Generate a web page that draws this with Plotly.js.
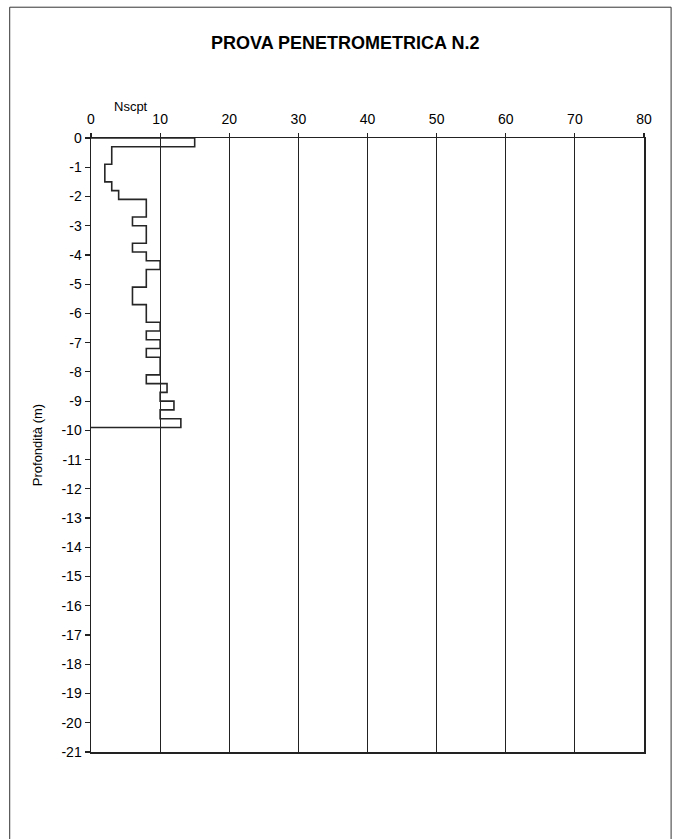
<!DOCTYPE html>
<html>
<head>
<meta charset="utf-8">
<script src="https://cdn.plot.ly/plotly-3.0.1.min.js"></script>
<style>html,body{margin:0;padding:0;background:#fff;}#chart{width:681px;height:839px;}</style>
</head>
<body>
<div id="chart"></div>
<script>
// Depth of the top of each 0.3 m interval (m)
var depthTop = [0,0.3,0.6,0.9,1.2,1.5,1.8,2.1,2.4,2.7,3.0,3.3,3.6,3.9,4.2,4.5,4.8,5.1,5.4,5.7,6.0,6.3,6.6,6.9,7.2,7.5,7.8,8.1,8.4,8.7,9.0,9.3,9.6];
// Nscpt blow count for each interval
var nscpt = [15,3,3,2,2,3,4,8,8,6,8,8,6,8,10,8,8,6,6,8,8,10,8,10,8,10,10,8,11,10,12,10,13];
var finalDepth = 9.9;
var xTicks = [0,10,20,30,40,50,60,70,80];
var yTickVals = [0,-1,-2,-3,-4,-5,-6,-7,-8,-9,-10,-11,-12,-13,-14,-15,-16,-17,-18,-19,-20,-21];
var yTickText = ["0","-1","-2","-3","-4","-5","-6","-7","-8","-9","-10","-11","-12","-13","-14","-15","-16","-17","-18","-19","-20","-21"];

var xs = [0], ys = [0];
for (var i = 0; i < nscpt.length; i++) { xs.push(nscpt[i]); ys.push(-depthTop[i]); }
xs.push(0); ys.push(-finalDepth);

var trace = {
  x: xs, y: ys, type: 'scatter', mode: 'lines',
  line: {shape: 'vh', color: '#262626', width: 1.6},
  hoverinfo: 'skip', showlegend: false
};

var layout = {
  width: 681, height: 839,
  margin: {l: 91, r: 37, t: 138, b: 87},
  paper_bgcolor: '#fff', plot_bgcolor: '#fff',
  font: {family: 'Liberation Sans, Arial, sans-serif', size: 14, color: '#000'},
  title: {text: '<b>PROVA PENETROMETRICA N.2</b>', x: 0.507, xanchor: 'center', y: 0.949, yanchor: 'middle',
          font: {size: 18, color: '#000', family: 'Liberation Sans, Arial, sans-serif'}},
  xaxis: {
    side: 'top', range: [0, 80], tickvals: xTicks, ticktext: xTicks.map(String),
    showgrid: true, gridcolor: '#222', gridwidth: 1.2,
    showline: true, linecolor: '#222', linewidth: 1.5, mirror: true,
    ticks: 'outside', ticklen: 4, tickcolor: '#222', tickwidth: 1.2,
    ticklabelstandoff: 3,
    zeroline: false, tickfont: {size: 14}, fixedrange: true
  },
  yaxis: {
    range: [-21, 0], tickvals: yTickVals, ticktext: yTickText,
    showgrid: false, showline: true, linecolor: '#222', linewidth: 1.5, mirror: true,
    ticks: 'outside', ticklen: 5, tickcolor: '#222', tickwidth: 1.2,
    zeroline: false, tickfont: {size: 14},
    title: {text: 'Profondità (m)', standoff: 16, font: {size: 13}}
  },
  annotations: [{
    text: 'Nscpt', xref: 'paper', yref: 'paper', x: 0.072, y: 1.0505,
    xanchor: 'center', yanchor: 'middle', showarrow: false, font: {size: 13}
  }],
  shapes: [{
    type: 'rect', xref: 'paper', yref: 'paper', x0: -0.147, x1: 1.049, y0: -0.2, y1: 1.213,
    line: {color: '#333', width: 1}, layer: 'below'
  }]
};

Plotly.newPlot('chart', [trace], layout, {displayModeBar: false, staticPlot: true});
</script>
</body>
</html>
